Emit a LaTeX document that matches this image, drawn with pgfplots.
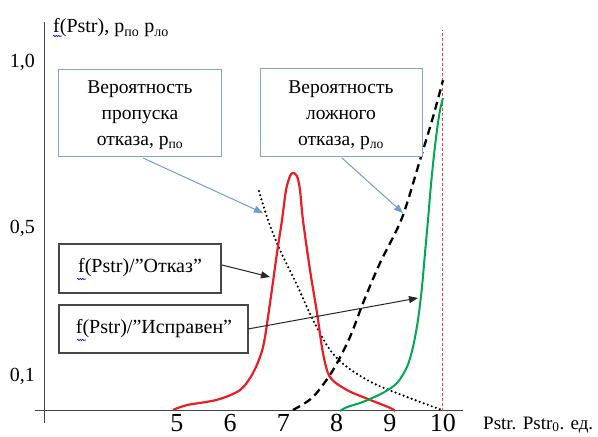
\documentclass[border=0pt]{standalone}
\usepackage{fontspec}
\setmainfont{Liberation Serif}
\usepackage{pgfplots}
\pgfplotsset{compat=1.18}
\usetikzlibrary{arrows.meta, decorations.pathmorphing}

\definecolor{curvered}{RGB}{235,28,36}
\definecolor{curvegreen}{RGB}{0,168,80}
\definecolor{calloutblue}{RGB}{125,165,215}
\definecolor{arrowblue}{RGB}{110,155,215}
\definecolor{axisgray}{RGB}{70,70,70}
\definecolor{limitred}{RGB}{240,60,80}

\begin{document}
\begin{tikzpicture}
\path[use as bounding box] (-35pt,-14pt) rectangle (563pt,423pt);
\begin{axis}[
  at={(0pt,0pt)}, anchor=south west,
  x=53.2pt, y=349pt,
  xmin=2.331, xmax=10.376, ymin=-0.0344, ymax=1.1146,
  axis line style={draw=none},
  major tick length=0pt,
  xtick={5,6,7,8,9,10}, xticklabels={5,6,7,8,9,10},
  ytick={0.1,0.524,1.0}, yticklabels={{0,1},{0,5},{1,0}},
  xticklabel style={font=\fontsize{26}{26}\selectfont, inner sep=0pt, yshift=9pt},
  yticklabel style={font=\fontsize{20}{20}\selectfont, inner sep=0pt},
  clip=false,
]
% axis lines crossing near the origin
\draw[axisgray, line width=1pt] (axis cs:2.331,0) -- (axis cs:10.376,0);
\draw[axisgray, line width=1pt] (axis cs:2.506,-0.0344) -- (axis cs:2.506,1.1146);

% boundary Pstr = Pstr0
\addplot[limitred, line width=1pt, dash pattern=on 3pt off 2pt] coordinates {(10,0) (10,1.092)};

% probability of a missed failure, p_po
\addplot[black, line width=2.4pt, line cap=round, dash pattern=on 0pt off 4.3pt, smooth, tension=0.5] coordinates {
  (6.541,0.630) (6.711,0.547) (6.936,0.461) (7.256,0.361) (7.556,0.261)
  (7.876,0.175) (8.195,0.126) (8.684,0.080) (9.323,0.040) (9.981,0.003)};

% probability of a false failure, p_lo
\addplot[black, line width=2.3pt, dash pattern=on 8pt off 5pt, smooth, tension=0.5] coordinates {
  (7.180,0.003) (7.556,0.040) (7.932,0.117) (8.252,0.212) (8.496,0.309)
  (8.816,0.424) (9.229,0.553) (9.568,0.719) (9.812,0.842) (10.000,0.948)};

% density for the "failure" state
\addplot[curvered, line width=2.2pt, smooth, tension=0.5] coordinates {
  (4.925,0.003) (5.188,0.017) (5.752,0.032) (6.184,0.060) (6.429,0.109)
  (6.617,0.183) (6.748,0.309) (6.880,0.453) (6.974,0.547) (7.049,0.633)
  (7.124,0.673) (7.180,0.682) (7.256,0.673) (7.312,0.633) (7.368,0.547)
  (7.500,0.404) (7.632,0.281) (7.744,0.166) (7.876,0.097) (8.195,0.060)
  (8.628,0.032) (9.004,0.009) (9.098,0.000)};

% density for the "serviceable" state
\addplot[curvegreen, line width=2pt, smooth, tension=0.5] coordinates {
  (8.064,0.000) (8.195,0.011) (8.496,0.026) (8.872,0.052) (9.135,0.080)
  (9.323,0.126) (9.436,0.183) (9.530,0.261) (9.605,0.355) (9.662,0.453)
  (9.718,0.547) (9.774,0.648) (9.831,0.734) (9.887,0.805) (9.944,0.862)
  (10.000,0.897)};
\end{axis}

% callouts and captions (y grows downward from the top edge)
\begin{scope}[x=1pt, y=-1pt, shift={(-35pt,423pt)}]
  \node[anchor=base west, inner sep=0pt, font=\fontsize{20}{20}\selectfont]
    at (53,33) {f(Pstr), p\textsubscript{по} p\textsubscript{ло}};
  \node[anchor=base west, inner sep=0pt, font=\fontsize{19}{19}\selectfont]
    at (483,429) {Pstr. Pstr\textsubscript{0}. ед.};

  \draw[calloutblue, line width=1pt, fill=white] (59,70) rectangle (221,157);
  \node[align=center, font=\fontsize{19.5}{26}\selectfont] at (140,115)
    {Вероятность\\пропуска\\отказа, p\textsubscript{по}};
  \draw[calloutblue, line width=1pt, fill=white] (260,69) rectangle (422,157);
  \node[align=center, font=\fontsize{19.5}{26}\selectfont] at (341,115)
    {Вероятность\\ложного\\отказа, p\textsubscript{ло}};

  \draw[axisgray, line width=1.2pt] (59,244) rectangle (221,293);
  \node[font=\fontsize{20}{20}\selectfont] at (140,268) {f(Pstr)/”Отказ”};
  \draw[axisgray, line width=1.2pt] (59,305) rectangle (248,353);
  \node[font=\fontsize{20}{20}\selectfont] at (154,329) {f(Pstr)/”Исправен”};

  \draw[arrowblue, line width=1pt, -{Triangle[length=9pt,width=7pt]}] (143,158) -- (263,213);
  \draw[arrowblue, line width=1pt, -{Triangle[length=9pt,width=7pt]}] (342,158) -- (403,213);
  \draw[black!85, line width=1pt, -{Triangle[length=9pt,width=7pt]}] (222,265) -- (270,277);
  \draw[black!85, line width=1pt, -{Triangle[length=9pt,width=7pt]}] (248,329) -- (418,298);

  \draw[blue, line width=0.6pt, decorate, decoration={snake, amplitude=0.7pt, segment length=2.5pt}] (53,36) -- (62,36);
  \draw[blue, line width=0.6pt, decorate, decoration={snake, amplitude=0.7pt, segment length=2.5pt}] (77,279) -- (86,279);
  \draw[blue, line width=0.6pt, decorate, decoration={snake, amplitude=0.7pt, segment length=2.5pt}] (77,340) -- (86,340);
\end{scope}
\end{tikzpicture}
\end{document}
